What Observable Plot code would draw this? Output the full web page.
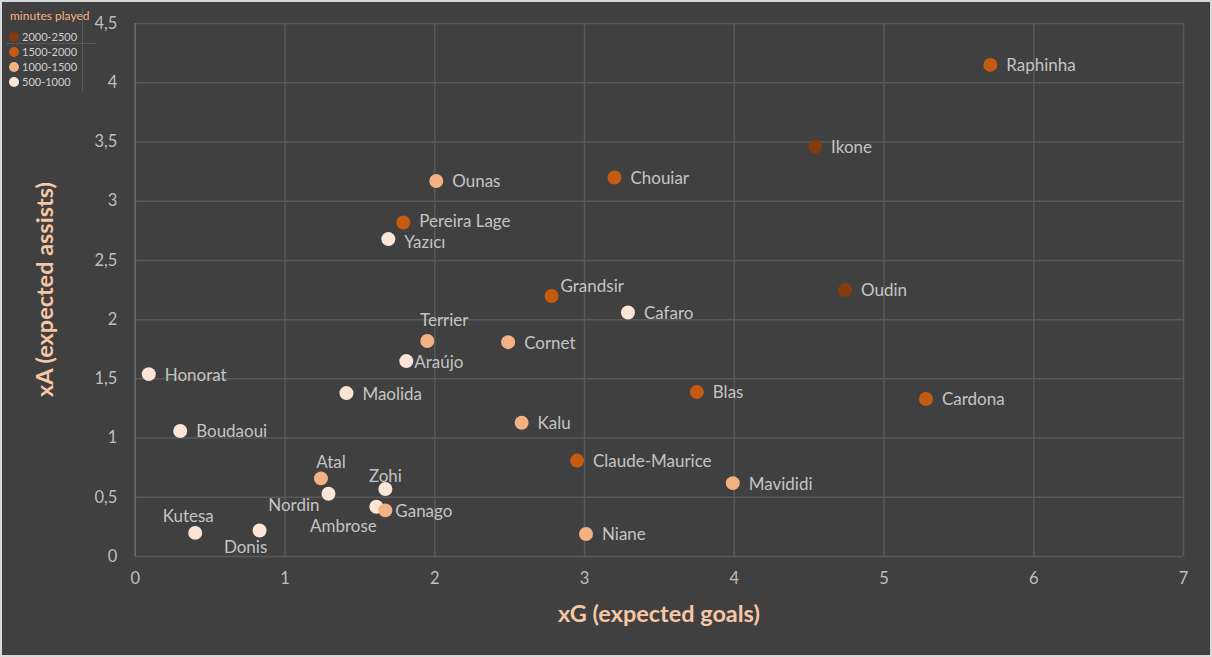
<!DOCTYPE html>
<html>
<head>
<meta charset="utf-8">
<script src="https://cdn.jsdelivr.net/npm/d3@7"></script>
<script src="https://cdn.jsdelivr.net/npm/@observablehq/plot@0.6"></script>
<style>
  html, body { margin: 0; padding: 0; background: #404040; }
  #wrap { position: relative; width: 1212px; height: 657px; box-sizing: border-box;
          border: 2px solid #d9d9d9; background: #404040; overflow: hidden;
          font-family: Lato, "Open Sans", sans-serif; }
  #chart { position: absolute; left: -2px; top: -2px; }
  #legend { position: absolute; left: 0; top: 0; width: 100px; height: 95px; }
  #legend .title { position: absolute; left: 8px; top: 6px; font-size: 12px; color: #F4B183; }
  #legend .item { position: absolute; left: 7px; font-size: 11px; color: #d0d0d0; white-space: nowrap; }
  #legend .sw { display: inline-block; width: 10px; height: 10px; border-radius: 50%; vertical-align: -1px; margin-right: 3px; }
  #legend .vl { position: absolute; left: 80px; top: 7px; width: 1px; height: 83px; background: #595959; }
  #legend .hl { position: absolute; left: 4px; top: 41px; width: 90px; height: 1px; background: #595959; }
</style>
</head>
<body>
<div id="wrap">
  <div id="chart"></div>
  <div id="legend"></div>
</div>
<script>
// ---- data ----
const players = ["Raphinha","Ikone","Chouiar","Ounas","Pereira Lage","Yazıcı","Grandsir","Oudin","Cafaro","Terrier","Cornet","Araújo","Honorat","Maolida","Blas","Cardona","Boudaoui","Kalu","Claude-Maurice","Mavididi","Atal","Nordin","Zohi","Ambrose","Ganago","Kutesa","Donis","Niane"];
const xG = [5.71,4.54,3.20,2.01,1.79,1.69,2.78,4.74,3.29,1.95,2.49,1.81,0.09,1.41,3.75,5.28,0.30,2.58,2.95,3.99,1.24,1.29,1.67,1.61,1.67,0.40,0.83,3.01];
const xA = [4.15,3.46,3.20,3.17,2.82,2.68,2.20,2.25,2.06,1.82,1.81,1.65,1.54,1.38,1.39,1.33,1.06,1.13,0.81,0.62,0.66,0.53,0.57,0.42,0.39,0.20,0.22,0.19];
const minutes = ["1500-2000","2000-2500","1500-2000","1000-1500","1500-2000","500-1000","1500-2000","2000-2500","500-1000","1000-1500","1000-1500","500-1000","500-1000","500-1000","1500-2000","1500-2000","500-1000","1000-1500","1500-2000","1000-1500","1000-1500","500-1000","500-1000","500-1000","1000-1500","500-1000","500-1000","1000-1500"];
const groups = ["2000-2500","1500-2000","1000-1500","500-1000"];
const groupColors = ["#843C0C","#C55A11","#F4B183","#FBE5D6"];
const xTicks = [0,1,2,3,4,5,6,7];
const yTicks = [0,0.5,1,1.5,2,2.5,3,3.5,4,4.5];

// label placement (offsets from dot; default is to the right)
const labelPlacement = {
  "Pereira Lage": {dx: 16, dy: -1, anchor: "start"},
  "Yazıcı": {dx: 16, dy: 3, anchor: "start"},
  "Grandsir": {dx: 9, dy: -9, anchor: "start"},
  "Terrier": {dx: 17, dy: -20, anchor: "middle"},
  "Araújo": {dx: 8, dy: 1, anchor: "start"},
  "Atal": {dx: 10, dy: -16, anchor: "middle"},
  "Zohi": {dx: 0, dy: -13, anchor: "middle"},
  "Nordin": {dx: -9, dy: 12, anchor: "end"},
  "Ambrose": {dx: -33, dy: 20, anchor: "middle"},
  "Ganago": {dx: 10, dy: 1, anchor: "start"},
  "Kutesa": {dx: -7, dy: -16, anchor: "middle"},
  "Donis": {dx: -14, dy: 17, anchor: "middle"}
};

const rows = players.map((p, i) => ({name: p, xG: xG[i], xA: xA[i], minutes: minutes[i]}));
const defaultPl = {dx: 16, dy: 1, anchor: "start"};
const textMarks = [];
const keyed = d3.group(rows, d => {
  const pl = labelPlacement[d.name] || defaultPl;
  return `${pl.dx}|${pl.dy}|${pl.anchor}`;
});
for (const [k, arr] of keyed) {
  const [dx, dy, anchor] = k.split("|");
  textMarks.push(Plot.text(arr, {x: "xG", y: "xA", text: "name", dx: +dx, dy: +dy, textAnchor: anchor,
    fill: "#c4c4c4", fontSize: 17, fontFamily: "Lato, 'Open Sans', sans-serif"}));
}

const fmt = d => String(d).replace(".", ",");

const chart = Plot.plot({
  width: 1212,
  height: 657,
  marginLeft: 135,
  marginRight: 27,
  marginTop: 23,
  marginBottom: 100,
  style: {background: "transparent", color: "#bfbfbf", fontFamily: "Lato, 'Open Sans', sans-serif"},
  x: {domain: [0, 7], ticks: xTicks, tickFormat: fmt, label: null},
  y: {domain: [0, 4.5], ticks: yTicks, tickFormat: fmt, label: null},
  color: {domain: groups, range: groupColors},
  marks: [
    Plot.gridX(xTicks, {stroke: "#595959", strokeOpacity: 1, strokeWidth: 1.5}),
    Plot.gridY(yTicks, {stroke: "#595959", strokeOpacity: 1, strokeWidth: 1.5}),
    Plot.ruleX([0], {stroke: "#6a6a6a", strokeWidth: 1.5}),
    Plot.axisX(xTicks, {tickSize: 0, tickPadding: 16, fontSize: 16.5, fill: "#bfbfbf", tickFormat: fmt}),
    Plot.axisY(yTicks, {tickSize: 0, tickPadding: 18, fontSize: 16.5, fill: "#bfbfbf", tickFormat: fmt}),
    Plot.dot(rows, {x: "xG", y: "xA", r: 7, fill: "minutes", stroke: null}),
    ...textMarks
  ]
});

const svg = d3.select(chart);
// axis titles
svg.append("text")
  .attr("x", 660).attr("y", 623)
  .attr("text-anchor", "middle")
  .attr("fill", "#F7C7A4")
  .attr("font-size", 23.5).attr("font-weight", "bold")
  .attr("font-family", "Lato, 'Open Sans', sans-serif")
  .text("xG (expected goals)");
svg.append("text")
  .attr("transform", "translate(53,290) rotate(-90)")
  .attr("text-anchor", "middle")
  .attr("fill", "#F7C7A4")
  .attr("font-size", 23.5).attr("font-weight", "bold")
  .attr("font-family", "Lato, 'Open Sans', sans-serif")
  .text("xA (expected assists)");

document.getElementById("chart").appendChild(chart);

// legend
const lg = document.getElementById("legend");
lg.innerHTML = `<div class="vl"></div><div class="hl"></div><div class="title">minutes played</div>` +
  groups.map((g, i) => `<div class="item" style="top:${28 + i * 15}px"><span class="sw" style="background:${groupColors[i]}"></span>${g}</div>`).join("");
</script>
</body>
</html>
